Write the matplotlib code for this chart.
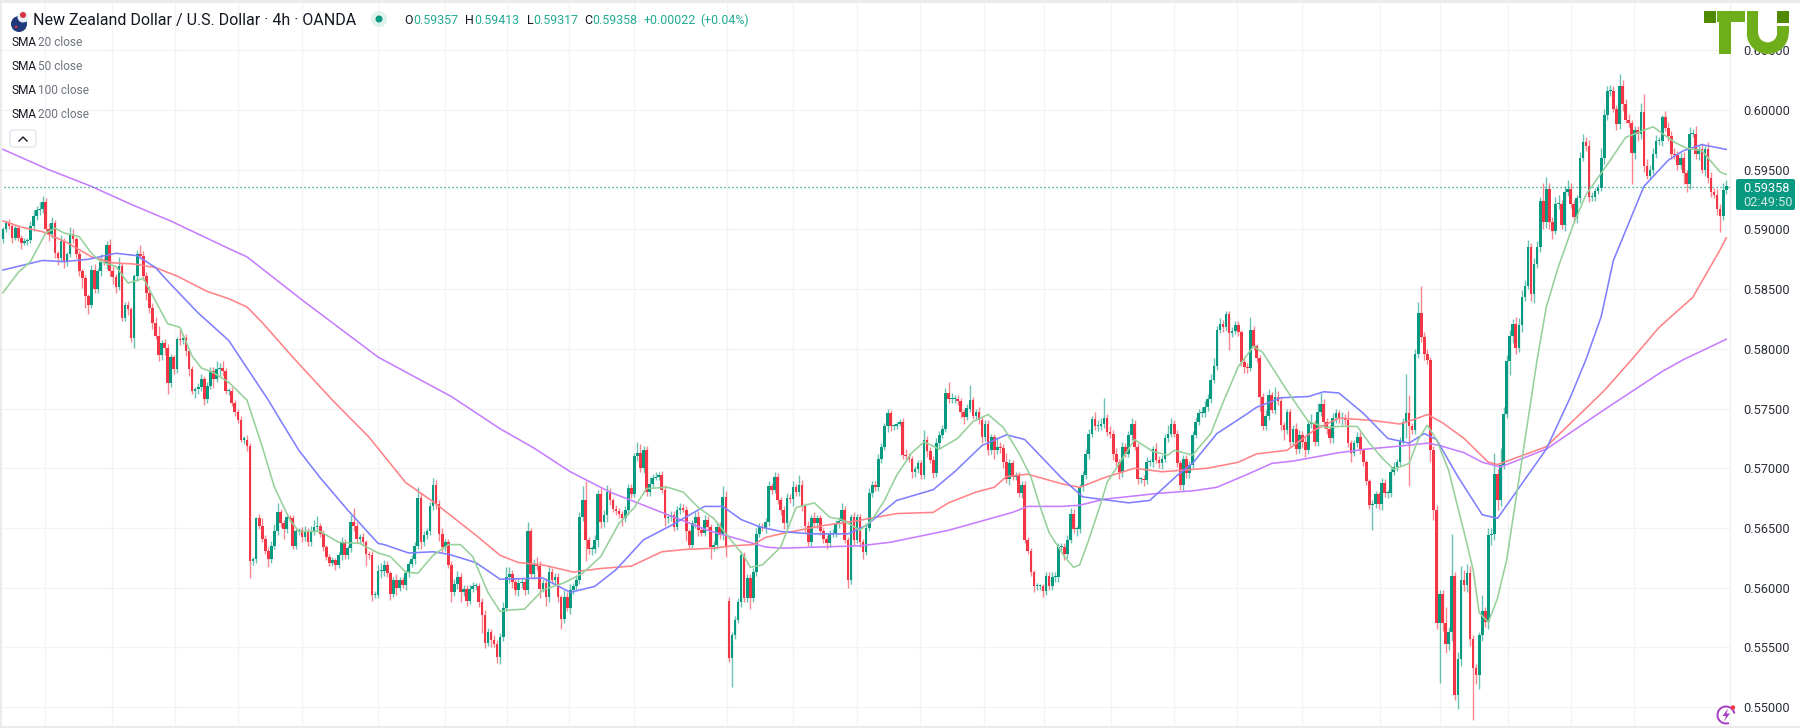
import matplotlib
matplotlib.use("Agg")
import matplotlib.pyplot as plt
from matplotlib.patches import Rectangle, FancyBboxPatch, Wedge, Circle, Arc, Polygon
from matplotlib.ticker import FuncFormatter

# prices in units of 0.0001
closes = [
5900,5905,5903,5893,5901,5893,5889,5890,5891,5903,5911,5916,5917,5923,5900,5896,5905,5880,5876,5890,
5873,5879,5896,5892,5879,5865,5859,5844,5837,5866,5850,5865,5873,5872,5887,5865,5860,5852,5869,5826,
5837,5833,5809,5861,5879,5878,5861,5847,5834,5822,5811,5795,5805,5801,5771,5793,5783,5808,5807,5809,
5798,5783,5765,5766,5768,5775,5758,5769,5781,5775,5783,5784,5781,5765,5765,5755,5747,5740,5724,5724,
5719,5622,5624,5658,5652,5641,5631,5624,5635,5647,5663,5654,5649,5659,5658,5635,5647,5648,5642,5647,
5638,5647,5651,5652,5645,5634,5626,5621,5623,5619,5627,5638,5627,5633,5655,5652,5641,5642,5638,5628,
5627,5594,5594,5614,5614,5619,5612,5595,5606,5600,5606,5602,5612,5620,5624,5635,5675,5638,5644,5647,
5668,5686,5670,5645,5634,5638,5619,5596,5603,5609,5596,5599,5589,5599,5601,5601,5588,5577,5554,5563,
5556,5553,5542,5559,5583,5609,5611,5605,5598,5604,5605,5598,5647,5611,5620,5618,5599,5604,5592,5613,
5606,5609,5592,5574,5592,5583,5598,5601,5606,5659,5673,5640,5632,5632,5640,5678,5655,5661,5680,5673,
5666,5664,5662,5658,5665,5683,5678,5710,5713,5700,5715,5680,5687,5692,5693,5694,5682,5658,5659,5661,
5651,5665,5667,5665,5647,5636,5654,5659,5648,5646,5657,5651,5634,5636,5651,5644,5676,5634,5541,5560,
5573,5588,5627,5591,5608,5591,5613,5645,5651,5650,5655,5685,5682,5693,5673,5665,5654,5675,5674,5684,
5680,5686,5668,5652,5638,5658,5654,5658,5647,5641,5637,5645,5646,5654,5656,5665,5640,5606,5659,5640,
5659,5638,5630,5650,5679,5686,5684,5708,5718,5735,5746,5735,5735,5737,5739,5711,5710,5708,5697,5699,
5704,5694,5724,5714,5707,5696,5721,5728,5733,5763,5758,5758,5758,5756,5747,5743,5750,5757,5744,5747,
5740,5726,5737,5715,5726,5715,5718,5717,5705,5691,5704,5693,5694,5679,5686,5640,5631,5613,5601,5601,
5601,5597,5610,5601,5609,5609,5634,5634,5628,5640,5662,5649,5649,5684,5694,5712,5729,5741,5735,5735,
5737,5742,5730,5729,5712,5705,5697,5718,5712,5728,5737,5718,5691,5691,5690,5705,5705,5716,5707,5704,
5708,5725,5729,5737,5729,5704,5686,5708,5696,5703,5728,5739,5746,5746,5751,5758,5774,5786,5816,5821,
5818,5829,5813,5815,5820,5814,5789,5785,5784,5816,5802,5792,5760,5735,5744,5761,5749,5760,5756,5736,
5732,5747,5722,5733,5716,5728,5722,5715,5737,5737,5722,5747,5754,5739,5733,5725,5742,5746,5741,5742,
5740,5721,5713,5721,5726,5715,5705,5689,5669,5670,5678,5670,5688,5679,5679,5697,5701,5705,5723,5739,
5746,5735,5732,5796,5830,5810,5796,5791,5715,5665,5570,5595,5570,5553,5563,5610,5510,5540,5606,5602,
5612,5557,5533,5527,5560,5580,5571,5644,5645,5695,5673,5703,5745,5790,5811,5821,5801,5820,5843,5853,
5885,5846,5871,5885,5924,5906,5934,5906,5899,5921,5921,5904,5931,5934,5921,5910,5926,5960,5973,5970,
5927,5927,5932,5935,5960,5996,6016,6016,6001,5988,6020,6005,5992,5989,5964,5983,5980,5998,5953,5945,
5950,5963,5974,5974,5994,5985,5978,5963,5962,5954,5960,5947,5938,5980,5980,5963,5967,5950,5967,5943,
5931,5929,5917,5911,5933,5936]

wick_up = [
2,3,4,2,3,3,2,3,2,4,5,4,6,5,3,5,5,3,2,5,
3,2,6,4,2,3,2,3,2,4,5,3,6,4,3,5,4,3,8,3,
2,3,2,2,4,8,4,3,6,4,5,8,2,3,3,3,2,2,9,3,
3,2,3,2,3,4,2,3,4,4,7,4,6,3,2,3,2,3,4,3,
4,2,2,1,4,6,3,3,4,6,8,3,3,3,2,3,3,2,3,5,
3,5,6,8,2,3,2,2,3,2,3,4,3,3,6,12,3,3,4,2,
3,4,3,5,7,4,3,2,3,5,3,3,3,2,3,3,9,4,3,3,
4,6,4,3,5,3,3,3,4,5,3,3,3,3,4,3,3,3,4,3,
2,4,3,3,5,8,6,4,3,4,3,3,8,3,4,6,4,3,4,5,
3,3,3,2,6,4,5,3,4,4,12,16,2,3,4,4,5,4,6,3,
2,3,3,2,3,4,4,3,9,7,4,4,6,3,4,3,4,4,3,3,
3,3,4,3,3,2,3,4,5,3,4,3,2,3,4,4,9,5,3,3,
3,3,4,3,3,3,3,5,3,3,3,4,3,4,3,3,3,4,3,5,
3,8,4,3,4,3,5,3,3,3,3,3,3,3,3,6,3,2,3,4,
3,3,3,3,4,3,3,4,3,3,4,3,2,2,2,3,5,3,2,3,
3,3,8,3,4,3,4,3,3,4,9,5,3,3,3,3,4,13,3,3,
4,3,3,3,3,3,8,4,3,8,4,3,3,3,3,3,2,2,2,3,
2,2,3,3,4,4,3,3,3,4,5,4,3,3,4,4,4,3,6,5,
5,17,3,5,3,5,3,4,3,3,5,3,3,2,3,4,3,3,5,3,
3,4,7,5,3,3,3,3,3,3,3,4,4,5,5,4,5,6,3,5,
3,3,3,3,3,3,2,3,3,11,3,2,3,3,5,5,3,8,5,3,
3,3,3,3,5,4,3,4,3,8,3,8,9,4,3,3,4,4,3,5,
3,8,3,3,4,4,2,2,2,3,3,2,4,3,3,3,4,3,3,3,
33,15,3,4,9,23,4,4,2,4,4,3,3,14,4,35,3,6,12,9,
8,6,3,3,3,14,4,6,5,18,4,14,6,5,5,4,6,6,6,5,
6,4,5,5,3,15,10,5,4,6,8,4,5,7,5,4,3,5,7,4,
5,4,3,3,8,5,4,5,4,3,10,5,4,5,3,4,4,8,15,6,
4,5,5,3,2,5,5,4,5,4,4,5,3,6,4,7,4,5,3,6,
5,4,5,4,6,5]

wick_dn = [
3,2,3,4,2,3,5,2,3,2,4,3,4,3,2,6,3,4,6,3,
5,4,2,3,3,4,8,10,8,3,3,3,4,2,5,4,6,5,3,3,
3,5,3,8,4,3,3,6,4,5,3,5,4,6,9,3,4,3,4,3,
4,6,3,6,4,3,5,3,3,8,3,6,4,3,4,3,3,2,2,4,
5,14,3,3,3,3,3,7,3,3,3,3,8,3,3,3,3,3,4,3,
3,3,3,4,3,3,3,3,3,4,3,4,3,3,3,5,4,4,3,10,
3,5,3,3,6,4,3,5,3,6,3,2,4,3,3,4,3,6,3,3,
3,3,4,6,4,3,3,8,3,4,8,3,4,3,3,3,4,15,5,3,
6,3,5,6,4,3,5,5,4,5,4,4,3,3,4,3,8,3,7,4,
3,3,4,9,4,3,5,3,3,3,3,18,4,5,3,6,5,4,6,4,
3,3,4,6,3,4,3,2,4,3,4,3,3,3,2,3,3,6,4,3,
4,3,3,2,8,3,3,4,5,3,3,3,10,3,4,3,4,8,3,24,
3,3,4,3,3,9,3,3,3,3,4,3,4,3,3,4,5,5,3,6,
3,3,4,6,3,4,3,4,3,4,5,3,3,4,4,3,3,6,3,5,
3,4,6,3,3,3,3,3,4,3,5,4,3,2,2,3,4,3,5,4,
3,3,3,5,3,4,3,4,3,3,3,3,3,3,5,6,3,3,3,3,
3,5,3,4,3,7,3,4,5,3,5,3,3,3,4,3,3,3,5,3,
3,5,3,3,3,4,4,3,5,3,3,3,6,3,3,3,4,3,3,4,
3,3,3,4,5,3,6,4,3,3,4,3,4,3,5,3,3,4,3,4,
5,3,3,3,3,3,4,5,4,4,3,3,3,3,3,3,3,3,4,3,
4,3,14,3,3,3,3,5,4,3,3,3,12,3,3,4,3,4,3,4,
8,3,3,3,4,3,5,6,3,3,3,3,3,5,4,4,4,4,3,5,
4,3,8,3,3,3,3,3,3,21,3,4,5,3,4,3,3,3,3,3,
14,50,3,3,4,4,5,4,10,8,5,50,6,8,5,8,4,12,6,5,
6,6,44,8,12,5,4,6,8,5,8,5,4,3,12,6,5,4,6,3,
3,6,8,3,4,6,5,6,7,3,4,4,5,3,3,5,5,4,3,4,
4,3,3,2,3,5,4,4,3,5,4,6,3,3,26,5,6,4,5,3,
3,4,3,3,4,3,4,4,3,4,3,9,7,4,3,4,5,3,5,4,
4,3,5,13,3,3]

gap_bars = [238]
gap_opens = [5589]
first_open = 5892

sma20_bar = [0,5,9,14,17,20,25,29,32,37,41,46,50,54,58,62,65,69,74,80,85,89,94,97,104,110,117,123,127,132,136,141,146,150,154,159,163,165,171,177,184,190,196,202,207,211,218,223,228,233,238,243,245,249,255,260,266,271,275,281,285,289,293,298,302,307,313,318,323,328,333,337,340,343,348,351,353,356,360,362,366,371,377,382,384,390,396,400,405,410,413,421,428,434,438,444,448,452,456,461,464,467,470,474,477,479,482,484,487,490,491,493,503,506,510,515,519,527,532,541,548,552,557,563,565]
sma20_val = [5847,5864,5873,5897,5901,5897,5894,5880,5873,5869,5855,5859,5840,5821,5818,5794,5784,5780,5772,5757,5718,5684,5657,5647,5647,5638,5637,5629,5626,5613,5612,5627,5636,5636,5626,5596,5580,5581,5582,5598,5604,5612,5626,5654,5667,5683,5684,5680,5667,5658,5642,5626,5617,5619,5634,5667,5671,5659,5657,5648,5657,5673,5694,5713,5722,5716,5725,5739,5745,5734,5713,5693,5668,5646,5626,5617,5619,5640,5671,5688,5704,5724,5714,5711,5715,5711,5729,5755,5785,5802,5797,5765,5739,5734,5735,5735,5721,5709,5699,5704,5724,5736,5724,5698,5667,5647,5615,5579,5571,5591,5602,5623,5791,5835,5869,5905,5929,5958,5977,5986,5973,5968,5966,5948,5946]

sma50_bar = [0,13,20,28,37,44,50,55,64,74,87,91,97,104,113,123,125,133,141,146,155,163,177,186,194,201,210,219,230,236,242,248,255,265,277,283,293,305,312,321,329,335,347,354,369,376,385,390,398,407,411,419,428,433,438,446,454,461,466,470,477,482,485,490,506,514,519,524,528,538,546,551,557,565]
sma50_val = [5866,5874,5873,5875,5880,5878,5868,5854,5830,5807,5757,5740,5715,5692,5665,5637,5636,5629,5630,5628,5621,5607,5608,5596,5601,5615,5640,5652,5668,5668,5657,5651,5647,5645,5645,5652,5673,5682,5697,5719,5728,5724,5692,5676,5671,5673,5694,5704,5729,5744,5751,5759,5760,5764,5763,5746,5725,5721,5729,5724,5693,5673,5661,5658,5716,5760,5791,5827,5874,5936,5958,5966,5971,5967]

sma100_bar = [0,6,13,21,29,36,43,50,57,67,74,80,85,95,108,120,132,141,155,163,169,177,187,196,206,216,224,233,239,246,250,255,269,280,293,305,310,319,325,329,336,347,353,361,371,380,395,405,411,421,430,438,449,458,464,467,472,479,487,490,506,525,534,543,550,554,563,565]
sma100_val = [5907,5902,5898,5889,5877,5872,5871,5868,5861,5848,5842,5835,5822,5793,5757,5726,5688,5672,5644,5627,5621,5619,5613,5616,5618,5630,5632,5633,5635,5636,5642,5645,5652,5656,5662,5663,5671,5680,5684,5693,5695,5687,5684,5692,5700,5697,5700,5705,5712,5715,5732,5742,5740,5737,5742,5745,5738,5725,5705,5703,5718,5765,5791,5818,5834,5843,5883,5893]

sma200_bar = [0,15,29,42,55,74,80,98,123,147,163,174,186,199,212,222,231,242,250,255,281,291,310,331,336,347,353,361,379,390,398,409,416,423,438,447,460,467,471,479,485,491,506,525,544,551,565]
sma200_val = [5967,5950,5936,5921,5907,5884,5877,5841,5793,5760,5733,5717,5697,5680,5667,5657,5648,5640,5634,5633,5635,5638,5648,5663,5668,5668,5669,5674,5679,5681,5684,5696,5704,5706,5713,5716,5719,5721,5719,5713,5705,5701,5716,5749,5781,5791,5808]

price_ticks = [0.55, 0.555, 0.56, 0.565, 0.57, 0.575, 0.58, 0.585, 0.59, 0.595, 0.60, 0.605]
grid_bars = [13.8,35.7,56.4,77,98,123,145,165.3,185.6,207,237.4,259,280,300.7,321.6,341.3,363.3,384,404.6,425.9,451.5,471.1,493.4,514,534.8]
last_price = 0.59358

UP, DOWN = "#089981", "#F23645"
TEXT, MUTED = "#131722", "#6f7480"
plt.rcParams["font.family"] = ["Roboto", "DejaVu Sans"]

fig = plt.figure(figsize=(18, 7.28), dpi=100)
ax = fig.add_axes([0, 0, 1730 / 1800, 1])
ax.set_xlim(-3 / 3.05, 1727 / 3.05)
ax.set_ylim(0.55 - 21 * 0.05 / 597, 0.60 + 110 * 0.05 / 597)

opens = [first_open] + closes[:-1]
for b, o in zip(gap_bars, gap_opens):
    opens[b] = o
bars = list(range(len(closes)))
o_p = [v / 1e4 for v in opens]
c_p = [v / 1e4 for v in closes]
cols = [UP if c >= o else DOWN for o, c in zip(opens, closes)]
tops = [max(o, c) for o, c in zip(o_p, c_p)]
bots = [min(o, c) for o, c in zip(o_p, c_p)]
hi = [t + u / 1e4 for t, u in zip(tops, wick_up)]
lo = [b - d / 1e4 for b, d in zip(bots, wick_dn)]

ax.vlines(bars, lo, hi, colors=cols, linewidth=1.0, alpha=0.6, zorder=2)
ax.bar(bars, [max(t - b, 0.00009) for t, b in zip(tops, bots)], bottom=bots,
       width=0.86, color=cols, linewidth=0, zorder=3)

for bx, vals, col in [(sma200_bar, sma200_val, "#c77dff"), (sma100_bar, sma100_val, "#ff8387"),
                      (sma50_bar, sma50_val, "#7f7fff"), (sma20_bar, sma20_val, "#96d09a")]:
    ax.plot(bx, [v / 1e4 for v in vals], color=col, lw=1.15, zorder=4, solid_joinstyle="round")

ax.axhline(last_price, color=UP, lw=0.9, ls=(0, (1, 2.2)), zorder=4)

ax.yaxis.tick_right()
ax.set_yticks(price_ticks)
ax.yaxis.set_major_formatter(FuncFormatter(lambda v, p: f"{v:.5f}"))
ax.set_xticks(grid_bars)
ax.set_xticklabels([])
ax.tick_params(length=0, pad=9.4)
ax.tick_params(axis="y", labelsize=9.2, labelcolor="#2a2e39")
ax.grid(True, color="#f3f3f3", lw=0.9, zorder=0)
ax.set_axisbelow(True)
for s in ["top", "left", "bottom"]:
    ax.spines[s].set_visible(False)
ax.spines["right"].set_color("#f0f0f0")

# overlay in pixel coordinates for the chart furniture
ov = fig.add_axes([0, 0, 1, 1], facecolor="none")
ov.set_xlim(0, 1800)
ov.set_ylim(728, 0)
ov.axis("off")
for r in [(0, 0, 1800, 3), (0, 0, 2, 728), (0, 726, 1800, 2)]:
    ov.add_patch(Rectangle((r[0], r[1]), r[2], r[3], color="#ebebeb", lw=0, zorder=1))

# flag, status dot
ov.add_patch(Circle((19, 24), 8, color="#1f3a7a", lw=0))
ov.add_patch(Circle((23, 17), 5.5, color="#e8eef5", lw=0))
ov.add_patch(Circle((23, 15), 3, color="#d8343f", lw=0))
ov.add_patch(Circle((16, 27), 1.3, color="#d8343f", lw=0))
ov.text(33, 20, "New Zealand Dollar / U.S. Dollar · 4h · OANDA", fontsize=11.5, color=TEXT, va="center")
ov.add_patch(Circle((379, 19), 8, color="#dff2ee", lw=0))
ov.add_patch(Circle((379, 19), 3.5, color=UP, lw=0))

GREEN = "#22ab94"
for x, s, c in [(404, "O", TEXT), (413, "0.59357", GREEN), (465, "H", TEXT), (474, "0.59413", GREEN),
                (527, "L", TEXT), (533, "0.59317", GREEN), (584, "C", TEXT), (592, "0.59358", GREEN),
                (644, "+0.00022", GREEN), (700, "(+0.04%)", GREEN)]:
    ov.text(x, 20, s, fontsize=8.9, color=c, va="center")

for y, n in [(43, "20"), (67, "50"), (90.5, "100"), (114, "200")]:
    t = ov.text(11, y, "SMA", fontsize=8.6, color=TEXT, va="center")
    ov.text(37.5, y, f"{n} close", fontsize=8.6, color=MUTED, va="center")

ov.add_patch(FancyBboxPatch((10, 130), 26, 17, boxstyle="round,pad=0,rounding_size=3",
                            fc="white", ec="#e0e3eb", lw=0.9))
ov.plot([19, 23, 27], [141, 137, 141], color=TEXT, lw=1.0)

# last price tag
ov.add_patch(FancyBboxPatch((1736, 179), 59, 31, boxstyle="round,pad=0,rounding_size=2", fc=UP, ec="none"))
ov.text(1743, 188, "0.59358", fontsize=9.2, color="white", va="center")
ov.text(1743, 203, "02:49:50", fontsize=9.2, color="#cfeae5", va="center")

# logo
L, D = "#6fae1b", "#4f8a00"
ov.add_patch(Rectangle((1704, 10.7), 12, 12, color=D, lw=0, zorder=6))
ov.add_patch(Rectangle((1717, 10.7), 28, 11.5, color=L, lw=0, zorder=6))
ov.add_patch(Rectangle((1719.3, 22), 11.4, 32, color=L, lw=0, zorder=6))
ov.add_patch(Rectangle((1746.7, 10.7), 11.6, 22.5, color=L, lw=0, zorder=6))
ov.add_patch(Rectangle((1776.7, 10.7), 12, 12, color=D, lw=0, zorder=6))
ov.add_patch(Rectangle((1776.7, 26), 12, 7.2, color=L, lw=0, zorder=6))
ov.add_patch(Wedge((1767.7, 33), 21, 0, 180, width=11.6, color=L, lw=0, zorder=6))

# bolt badge
P = "#a73cc4"
ov.add_patch(Arc((1726, 715), 17, 17, theta1=70, theta2=350, color=P, lw=1.4))
ov.add_patch(Polygon([(1728, 708.5), (1722.5, 716), (1726, 716), (1724, 721.5), (1730, 713.5), (1726.5, 713.5)], color=P, lw=0))
ov.add_patch(Circle((1733, 707.5), 2.2, color="#f23645", lw=0))

fig.savefig("out.png", dpi=100, facecolor="white")
